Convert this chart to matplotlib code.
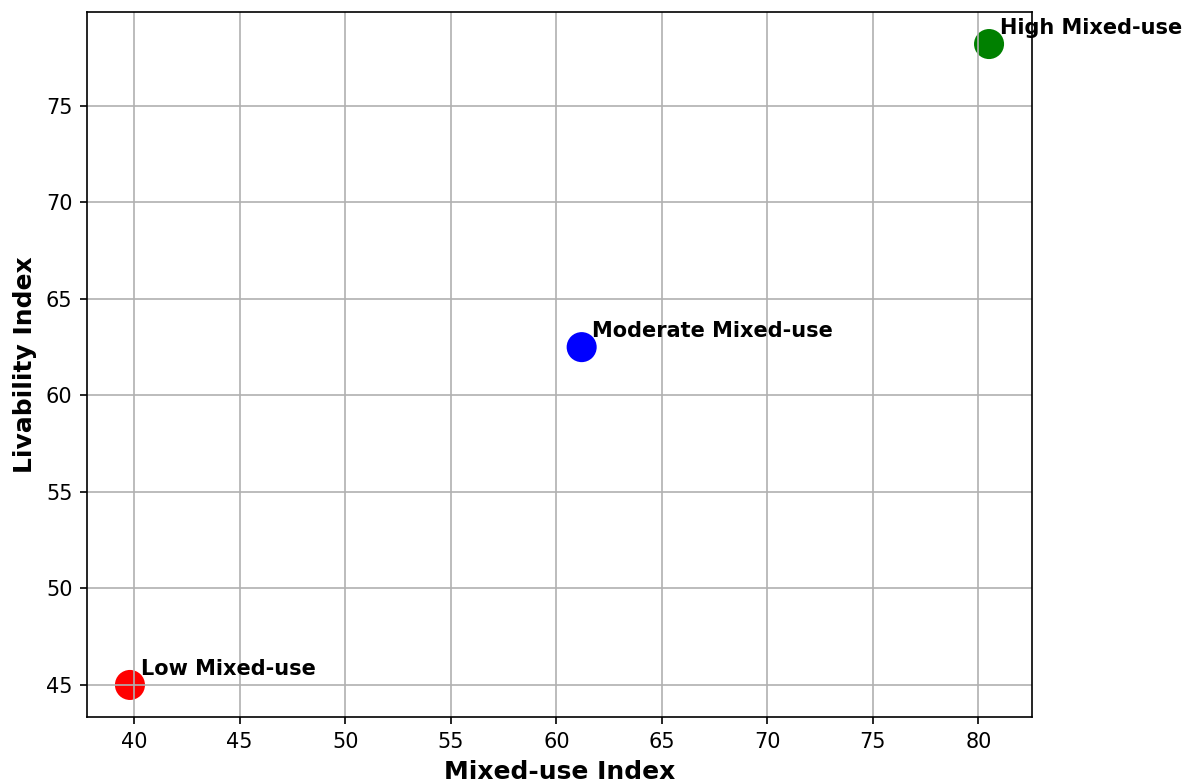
import matplotlib
matplotlib.use("Agg")
import matplotlib.pyplot as plt

categories = ["Low Mixed-use", "Moderate Mixed-use", "High Mixed-use"]
mixed_use_index = [39.8, 61.2, 80.5]
livability_index = [45.0, 62.5, 78.2]
colors = ["red", "blue", "green"]

DPI = 150
fig = plt.figure(figsize=(1192 / DPI, 784 / DPI), dpi=DPI)
ax = fig.add_axes([87 / 1192, 1 - 717 / 784, (1032 - 87) / 1192, (717 - 12) / 784])

ax.scatter(mixed_use_index, livability_index, c=colors, s=180)
for x, y, lab in zip(mixed_use_index, livability_index, categories):
    ax.text(x + 0.5, y + 0.5, lab, fontsize=10, fontweight="bold")

ax.set_xlabel("Mixed-use Index", fontsize=12, fontweight="bold")
ax.set_ylabel("Livability Index", fontsize=12, fontweight="bold")
ax.tick_params(labelsize=10)
ax.grid(True)

fig.savefig("out.png", dpi=DPI)
